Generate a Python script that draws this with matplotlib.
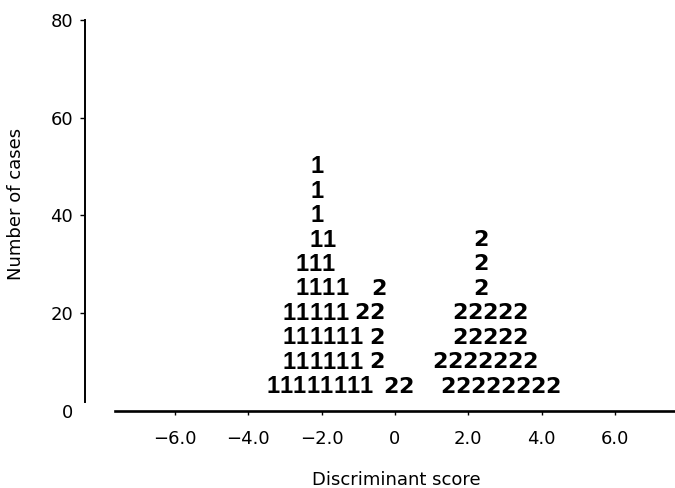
import matplotlib
matplotlib.use("Agg")
import matplotlib.pyplot as plt

# ---------------- data ----------------
# each printed symbol stands for 5 cases; rows sit at these counts
row_levels = [5, 10, 15, 20, 25, 30, 35, 40, 45, 50]

# group 1 symbols ("1"): discriminant score of first symbol in each row, number of symbols
g1_start = [-3.33, -2.89, -2.89, -2.89, -2.54, -2.54, -2.15, -2.13, -2.13, -2.13]
g1_count = [8, 6, 6, 5, 4, 3, 2, 1, 1, 1]

# group 2 symbols ("2") that overlap group 1 (left cluster)
g2_left_start = [-0.12, -0.49, -0.49, -0.90, -0.44, 0.0, 0.0, 0.0, 0.0, 0.0]
g2_left_count = [2, 1, 1, 2, 1, 0, 0, 0, 0, 0]

# main group 2 cluster (right)
g2_right_start = [1.45, 1.23, 1.77, 1.77, 2.35, 2.35, 2.35, 0.0, 0.0, 0.0]
g2_right_count = [8, 7, 5, 5, 1, 1, 1, 0, 0, 0]

x_ticks = [-6, -4, -2, 0, 2, 4, 6]
x_tick_labels = ["\u22126.0", "\u22124.0", "\u22122.0", "0", "2.0", "4.0", "6.0"]
y_ticks = [0, 20, 40, 60, 80]
y_tick_labels = ["0", "20", "40", "60", "80"]

x_label = "Discriminant score"
y_label = "Number of cases"

# ---------------- styling ----------------
plt.rcParams["font.family"] = ["DejaVu Sans"]
sym_step = {"1": 0.365, "2": 0.41}
sym_font = {"1": ["Liberation Sans", "DejaVu Sans"], "2": ["DejaVu Sans"]}
sym_size = {"1": 17, "2": 16}
sym_drop = {"1": -4.8, "2": -4.4}

fig = plt.figure(figsize=(6.75, 4.88), dpi=100)
ax = fig.add_axes([85 / 675, 77 / 488, 590 / 675, 391 / 488])
ax.set_xlim(-8.45, 7.64)
ax.set_ylim(0, 80)

for side in ("top", "right"):
    ax.spines[side].set_visible(False)
ax.spines["left"].set_bounds(1.8, 80)
ax.spines["left"].set_linewidth(1.4)
ax.spines["bottom"].set_bounds(-7.64, 7.64)
ax.spines["bottom"].set_linewidth(1.9)

ax.set_xticks(x_ticks)
ax.set_xticklabels(x_tick_labels)
ax.set_yticks(y_ticks)
ax.set_yticklabels(y_tick_labels)
ax.tick_params(axis="x", direction="out", length=3, width=1.0, pad=11,
               labelsize=13, colors="black")
ax.tick_params(axis="y", direction="out", length=3.6, width=1.0, pad=5,
               labelsize=13, colors="black")
ax.yaxis.get_major_ticks()[0].tick1line.set_visible(False)

ax.set_xlabel(x_label, fontsize=13)
ax.set_ylabel(y_label, fontsize=13)
ax.xaxis.set_label_coords(0.527, -0.153)
ax.yaxis.set_label_coords(-0.102, 0.53)


def draw_run(sym, start, n, level):
    for i in range(n):
        ax.annotate(sym, xy=(start + i * sym_step[sym], level),
                    xytext=(0, sym_drop[sym]), textcoords="offset points",
                    ha="center", va="baseline", fontsize=sym_size[sym],
                    fontweight="bold", family=sym_font[sym],
                    annotation_clip=False, color="black")


for lvl, s, n in zip(row_levels, g1_start, g1_count):
    draw_run("1", s, n, lvl)
for lvl, s, n in zip(row_levels, g2_left_start, g2_left_count):
    draw_run("2", s, n, lvl)
for lvl, s, n in zip(row_levels, g2_right_start, g2_right_count):
    draw_run("2", s, n, lvl)

fig.savefig("out.png", dpi=100)
